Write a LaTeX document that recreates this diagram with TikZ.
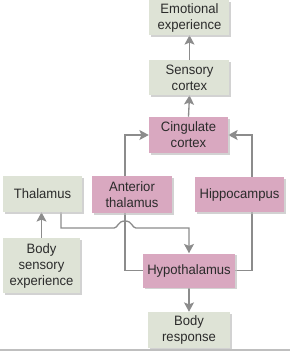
\documentclass[tikz,border=0pt]{standalone}
\usepackage{fontspec}
\setmainfont[FakeStretch=0.96]{Liberation Sans}
\usetikzlibrary{arrows.meta,shadows,backgrounds}
\definecolor{boxgreen}{HTML}{DEE3D6}
\definecolor{boxpink}{HTML}{D9A8C0}
\definecolor{linegray}{HTML}{8C8C8C}
\definecolor{txt}{HTML}{2B2B2B}
\begin{document}
\begin{tikzpicture}[x=0.75pt,y=-0.75pt,
  box/.style={draw=none, text=txt, align=center, inner sep=0pt,
    font=\fontsize{10.2}{12}\selectfont,
    drop shadow={shadow xshift=1.2pt, shadow yshift=-1.2pt, fill=black!25, opacity=0.7}},
  gbox/.style={box, fill=boxgreen},
  pbox/.style={box, fill=boxpink},
  conn/.style={draw=linegray, line width=1pt},
  arr/.style={conn, -{Stealth[length=7pt,width=7.5pt,inset=1.5pt]}}]
\useasboundingbox (0,0) rectangle (290,351);
\node[gbox, minimum width=60pt, minimum height=26.25pt] (emo) at (189.5,17.5) {Emotional\\experience};
\node[gbox, minimum width=60pt, minimum height=26.25pt] (sens) at (189.5,77.5) {Sensory\\cortex};
\node[pbox, minimum width=59.25pt, minimum height=27pt] (cing) at (188.5,135) {Cingulate\\cortex};
\node[gbox, minimum width=59.25pt, minimum height=27pt] (thal) at (42.5,194) {Thalamus};
\node[pbox, minimum width=60pt, minimum height=27.75pt] (ant) at (132,194.5) {Anterior\\thalamus};
\node[pbox, minimum width=66.75pt, minimum height=26.25pt] (hipp) at (239.5,194.5) {Hippocampus};
\node[gbox, minimum width=57.75pt, minimum height=41.25pt] (bse) at (41.5,265.5) {Body\\sensory\\experience};
\node[pbox, minimum width=69pt, minimum height=25.5pt] (hypo) at (189,270.5) {Hypothalamus};
\node[gbox, minimum width=61.5pt, minimum height=27pt] (resp) at (189,330) {Body\\response};
\coordinate (al) at (125,135);
\coordinate (ar) at (252,135);
\coordinate (tj) at (61,228);
\coordinate (hj) at (189,228);
\begin{scope}[on background layer]
\draw[arr] (sens.north) -- (emo.south);
\draw[arr] (cing.north) -- (sens.south);
\draw[arr] (hypo.west) -| (al) -- (cing.west);
\draw[arr] (hypo.east) -| (ar) -- (cing.east);
\draw[arr] (bse.north) -- (bse.north |- thal.south);
\draw[arr] (thal.south -| tj) -- (tj) -- (114,228) .. controls (118,228) and (117.5,221) .. (125,221) .. controls (132.5,221) and (132,228) .. (136,228) -- (hj) -- (hypo.north);
\draw[arr] (hypo.south) -- (resp.north);
\end{scope}
\draw[black!25, line width=0.8pt] (0,350) -- (290,350);
\end{tikzpicture}
\end{document}
